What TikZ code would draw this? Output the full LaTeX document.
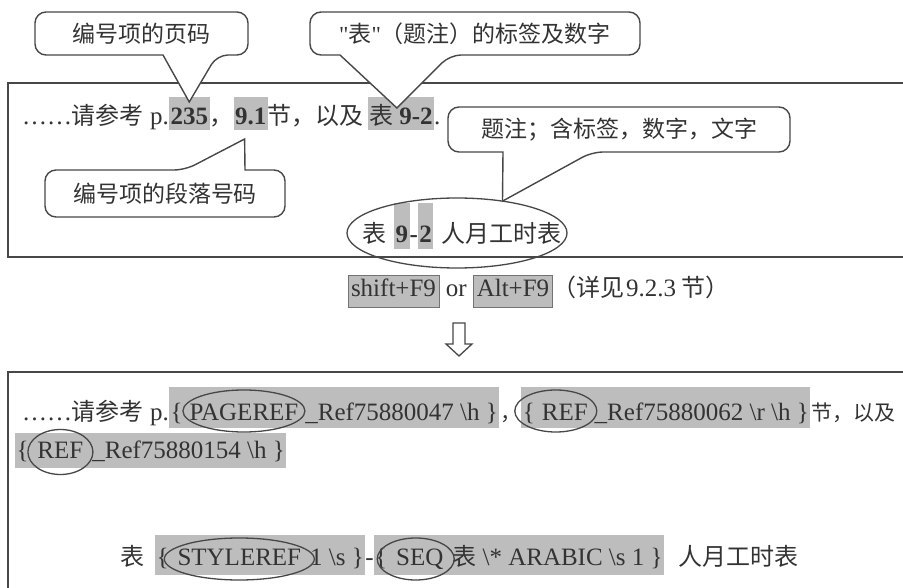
\documentclass[tikz,border=0pt]{standalone}
\usepackage{fontspec}
\setmainfont{Liberation Serif}
\newfontfamily\cjk{Noto Sans CJK SC}
\newcommand\zh[1]{{\cjk\fontsize{24pt}{24pt}\selectfont #1}}
\newcommand\zhs[1]{{\cjk\fontsize{21pt}{21pt}\selectfont #1}}
\usetikzlibrary{shapes.geometric,calc}
\definecolor{hlgray}{gray}{0.74}
\definecolor{ink}{gray}{0.2}
\definecolor{linec}{gray}{0.28}
\begin{document}
\begin{tikzpicture}[x=1pt,y=-1pt,
  every node/.style={inner sep=0pt,outer sep=0pt,text=ink},
  seg/.style={anchor=base west,font=\fontsize{25pt}{25pt}\selectfont},
  hl/.style={fill=hlgray,inner xsep=1.5pt},
  hlb/.style={fill=hlgray,draw=black!55,line width=0.8pt,inner xsep=3pt},
  Lone/.style={text height=24pt,text depth=1pt,inner ysep=4pt},
  Ecap/.style={text height=36pt,text depth=2pt,inner ysep=4pt},
  Mid/.style={text height=18pt,text depth=6pt,inner ysep=4pt},
  La/.style={text height=29pt,text depth=4pt,inner ysep=4pt},
  Lb/.style={text height=21pt,text depth=6pt,inner ysep=4pt},
  Lc/.style={text height=26pt,text depth=6pt,inner ysep=4pt},
  ell/.style={draw=linec,line width=1.3pt,ellipse},
  frame/.style={draw=linec,line width=1.6pt},
  callout/.style={draw=linec,line width=1.4pt,fill=white},
  ctext/.style={font=\cjk\fontsize{23pt}{23pt}\selectfont}
]
\useasboundingbox (0,0) rectangle (903,588);
\fill[white] (0,0) rectangle (903,588);
\clip (0,0) rectangle (903,588);

% ---------- top frame ----------
\draw[frame] (910,83) -- (8,83) -- (8,257) -- (910,257);

% line 1
\node[seg,Lone] (l1a) at (22,125) {……\zh{请参考} p.};
\node[seg,Lone,hl] (l1b) at (l1a.base east) {\bfseries 235};
\node[seg,Lone] (l1c) at (l1b.base east) {\zh{，}};
\node[seg,Lone,hl] (l1d) at (l1c.base east) {\bfseries 9.1};
\node[seg,Lone] (l1e) at (l1d.base east) {\zh{节，以及}\kern4pt};
\node[seg,Lone,hl] (l1f) at (l1e.base east) {\zh{表}\kern6pt\bfseries 9-2};
\node[seg,Lone] (l1g) at (l1f.base east) {.};

% caption line in ellipse
\node[seg,Ecap] (t1) at (362,243) {\zh{表}\kern8pt};
\node[seg,Ecap,hl] (t2) at (t1.base east) {\bfseries 9};
\node[seg,Ecap] (t3) at (t2.base east) {\bfseries -};
\node[seg,Ecap,hl] (t4) at (t3.base east) {\bfseries 2};
\node[seg,Ecap] (t5) at (t4.base east) {\kern8pt\zh{人月工时表}};
\node[ell,minimum width=220pt,minimum height=70pt] (e1) at (457,233) {};

% callouts
\node[ctext,minimum width=213pt,minimum height=43pt] (c1) at (141.5,33.5) {编号项的页码};
\coordinate (tip1) at ($(l1b.north)+(0,5)$);
\draw[callout] (c1.west) [rounded corners=11pt] -- (c1.north west) -- (c1.north east) -- (c1.south east) -- (217,55)
  [sharp corners] -- (tip1) -- (163,55) [rounded corners=11pt] -- (c1.south west) -- (c1.west);
\node[ctext] at (c1.center) {编号项的页码};

\node[ctext,minimum width=330pt,minimum height=43pt] (c2) at (475,33.5) {{\rmfamily\textquotedbl}表{\rmfamily\textquotedbl}（题注）的标签及数字};
\coordinate (tip2) at ($(l1f.north)+(-4,11)$);
\draw[callout] (c2.west) [rounded corners=11pt] -- (c2.north west) -- (c2.north east) -- (c2.south east) -- (450,55)
  [sharp corners] -- (tip2) -- (340,55) [rounded corners=11pt] -- (c2.south west) -- (c2.west);
\node[ctext] at (c2.center) {{\rmfamily\textquotedbl}表{\rmfamily\textquotedbl}（题注）的标签及数字};

\node[ctext,minimum width=342pt,minimum height=45pt] (c3) at (619,129.5) {题注；含标签，数字，文字};
\coordinate (tip3) at (e1.35);
\draw[callout] (c3.west) [rounded corners=11pt] -- (c3.north west) -- (c3.north east) -- (c3.south east) -- (592,152)
  [sharp corners] -- (tip3) -- (503,152) [rounded corners=11pt] -- (c3.south west) -- (c3.west);
\node[ctext] at (c3.center) {题注；含标签，数字，文字};

\node[ctext,minimum width=240pt,minimum height=47pt] (c4) at (165,193.5) {编号项的段落号码};
\coordinate (tip4) at ($(l1d.south)+(-6,9)$);
\draw[callout] (c4.west) [rounded corners=11pt] -- (c4.north west) -- (185,170)
  [sharp corners] -- (tip4) -- (245,170) [rounded corners=11pt] -- (c4.north east) -- (c4.south east) -- (c4.south west) -- (c4.west);
\node[ctext] at (c4.center) {编号项的段落号码};

% ---------- middle line ----------
\node[seg,Mid,hlb] (m1) at (348,297) {shift+F9};
\node[seg,Mid] (m2) at (m1.base east) {\kern7pt or\kern7pt};
\node[seg,Mid,hlb] (m3) at (m2.base east) {Alt+F9};
\node[seg,Mid] (m4) at (m3.base east) {\zh{（详见}\kern2pt 9.2.3\kern5pt\zh{节）}};

% hollow down arrow
\draw[draw=linec,line width=1.3pt,line join=miter]
  (453,323) -- (465,323) -- (465,344) -- (472,344) -- (459,356) -- (446,344) -- (453,344) -- cycle;

% ---------- bottom frame ----------
\draw[frame] (910,372) -- (8,372) -- (8,600);

% line A
\node[seg,La] (a1) at (22,420) {……\zh{请参考} p.};
\node[seg,La,hl] (a2) at (a1.base east) {\{\kern4pt};
\node[seg,La,hl] (PR) at (a2.base east) {PAGEREF};
\node[seg,La,hl] (a3) at (PR.base east) {\kern4pt\_Ref75880047 \textbackslash h \}};
\node[seg,La] (a4) at (a3.base east) {\kern1pt\zhs{，}};
\node[seg,La,hl] (a5) at (a4.base east) {\{\kern4pt};
\node[seg,La,hl] (R1) at (a5.base east) {REF};
\node[seg,La,hl] (a6) at (R1.base east) {\kern4pt\_Ref75880062 \textbackslash r \textbackslash h \}};
\node[seg,La] (a7) at (a6.base east) {\kern1pt\zhs{节，以及}};

% line B
\node[seg,Lb,hl] (b1) at (15,458) {\{\kern6pt};
\node[seg,Lb,hl] (R2) at (b1.base east) {REF};
\node[seg,Lb,hl] (b2) at (R2.base east) {\kern6pt\_Ref75880154 \textbackslash h \}};

% line C
\node[seg,Lc] (k0) at (120,565) {\zh{表}\kern11pt};
\node[seg,Lc,hl] (k1) at (k0.base east) {\{\kern6pt};
\node[seg,Lc,hl] (SR) at (k1.base east) {STYLEREF};
\node[seg,Lc,hl] (k2) at (SR.base east) {\kern6pt 1 \textbackslash s \}};
\node[seg,Lc] (k3) at (k2.base east) {-};
\node[seg,Lc,hl] (k4) at (k3.base east) {\{\kern6pt};
\node[seg,Lc,hl] (SQ) at (k4.base east) {SEQ};
\node[seg,Lc,hl] (k5) at (SQ.base east) {\kern6pt\zh{表} \textbackslash* ARABIC \textbackslash s 1 \}};
\node[seg,Lc] (k6) at (k5.base east) {\kern14pt\zh{人月工时表}};

% ellipses on field codes
\node[ell,minimum width=122pt,minimum height=42pt] (ePR) at ($(PR.center)+(0,3.5)$) {};
\node[ell,minimum width=82pt,minimum height=42pt] (eR1) at ($(R1.center)+(-9,3.5)$) {};
\node[ell,minimum width=65pt,minimum height=45pt] (eR2) at ($(R2.center)+(0,1.5)$) {};
\node[ell,minimum width=150pt,minimum height=42pt] (eSR) at ($(SR.center)+(0,4)$) {};
\node[ell,minimum width=77pt,minimum height=42pt] (eSQ) at ($(SQ.center)+(-4,4)$) {};
\end{tikzpicture}
\end{document}
